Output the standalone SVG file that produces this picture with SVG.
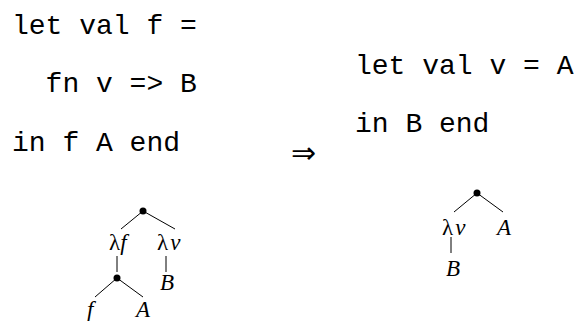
<svg xmlns="http://www.w3.org/2000/svg" width="582" height="321" viewBox="0 0 582 321">
<style>
.code{font-family:'Liberation Mono','Courier New',Courier,monospace;font-size:28px;fill:#000}
.t{font-family:'Liberation Serif','Times New Roman',serif;font-size:23px;fill:#000}
.i{font-style:italic}
.e{stroke:#000;stroke-width:1;fill:none}
.dot{fill:#000}
</style>
<rect width="582" height="321" fill="#fff"/>
<g id="code-left">
<text class="code" x="12" y="34">let val f =</text>
<text class="code" x="12" y="92" xml:space="preserve">  fn v =&gt; B</text>
<text class="code" x="12" y="151">in f A end</text>
</g>
<g id="arrow"><text class="t" x="291" y="163" style="font-size:30px">⇒</text></g>
<g id="code-right">
<text class="code" x="355" y="74">let val v = A</text>
<text class="code" x="355" y="132">in B end</text>
</g>
<g id="connectors">
<line class="e" x1="143" y1="211" x2="121" y2="229"/>
<line class="e" x1="143" y1="211" x2="175" y2="229"/>
<line class="e" x1="117" y1="256" x2="117" y2="272"/>
<line class="e" x1="166" y1="256" x2="166" y2="272"/>
<line class="e" x1="117" y1="278" x2="95" y2="297"/>
<line class="e" x1="117" y1="278" x2="143" y2="297"/>
<line class="e" x1="477" y1="193" x2="454" y2="212"/>
<line class="e" x1="477" y1="193" x2="503" y2="212"/>
<line class="e" x1="451" y1="237" x2="451" y2="253"/>
</g>
<g id="left-root"><circle class="dot" cx="143" cy="211" r="3.5"/></g>
<g id="left-lf"><text class="t" x="109" y="250">λ<tspan class="i">f</tspan></text></g>
<g id="left-lv"><text class="t" x="157" y="250">λ<tspan class="i" dx="2">v</tspan></text></g>
<g id="left-app"><circle class="dot" cx="117" cy="278" r="3.5"/></g>
<g id="left-B"><text class="t i" x="160" y="290">B</text></g>
<g id="left-f"><text class="t i" x="87" y="317">f</text></g>
<g id="left-A"><text class="t i" x="136" y="317">A</text></g>
<g id="right-root"><circle class="dot" cx="477" cy="193" r="3.5"/></g>
<g id="right-lv"><text class="t" x="442" y="235">λ<tspan class="i" dx="2">v</tspan></text></g>
<g id="right-A"><text class="t i" x="497" y="235">A</text></g>
<g id="right-B"><text class="t i" x="446" y="276">B</text></g>
</svg>
